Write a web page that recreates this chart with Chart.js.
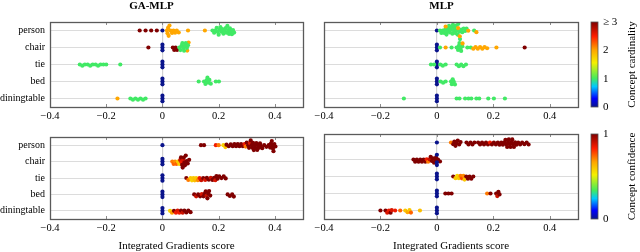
<!DOCTYPE html>
<html>
<head>
<meta charset="utf-8">
<script src="https://cdn.jsdelivr.net/npm/chart.js@4.4.1/dist/chart.umd.min.js"></script>
<style>
  body { margin: 0; background: #fff; }
  #wrap { position: relative; width: 640px; height: 252px; overflow: hidden; }
  canvas { position: absolute; }
</style>
</head>
<body>
<div id="wrap">
  <canvas id="tl" width="315" height="126" style="left:0;top:0"></canvas>
  <canvas id="tr" width="335" height="126" style="left:305px;top:0"></canvas>
  <canvas id="bl" width="315" height="126" style="left:0;top:126px"></canvas>
  <canvas id="br" width="335" height="126" style="left:305px;top:126px"></canvas>
</div>
<script>
const categories = ['person', 'chair', 'tie', 'bed', 'diningtable'];
const xTicks = [-0.4, -0.2, 0, 0.2, 0.4];
const cardinalityLabels = ['0', '1', '2', '\u2265 3'];
const confidenceLabels = ['0', '1'];

// GA-MLP, [score, concept cardinality]
const gaCardPerson = [[-0.081, 3], [-0.060, 3], [-0.040, 3], [-0.020, 3], [0, 0],
  [0.016, 2], [0.018, 2], [0.020, 2], [0.022, 2], [0.025, 2], [0.029, 2], [0.034, 2], [0.039, 2], [0.045, 2], [0.051, 2], [0.058, 2], [0.091, 2], [0.151, 2],
  [0.178, 1], [0.184, 1], [0.189, 1], [0.193, 1], [0.197, 1], [0.200, 1], [0.203, 1], [0.206, 1], [0.210, 1], [0.213, 1], [0.217, 1],
  [0.221, 1], [0.225, 1], [0.228, 1], [0.231, 1], [0.234, 1], [0.237, 1], [0.240, 1], [0.243, 1], [0.247, 1], [0.251, 1], [0.255, 1]];
const gaCardChair = [[-0.050, 3], [0, 0], [0, 0], [0, 0], [0.037, 3], [0.042, 3], [0.047, 3], [0.052, 3], [0.088, 2], [0.093, 2],
  [0.060, 1], [0.064, 1], [0.068, 1], [0.071, 1], [0.074, 1], [0.077, 1], [0.080, 1], [0.083, 1], [0.087, 1], [0.091, 1]];
const gaCardTie = [[-0.294, 1], [-0.285, 1], [-0.276, 1], [-0.266, 1], [-0.257, 1], [-0.248, 1], [-0.238, 1], [-0.229, 1], [-0.220, 1],
  [-0.210, 1], [-0.200, 1], [-0.150, 1], [0, 0], [0, 0], [0, 0]];
const gaCardBed = [[0, 0], [0, 0], [0, 0], [0.129, 1], [0.148, 1], [0.153, 1], [0.157, 1], [0.160, 1], [0.163, 1], [0.167, 1], [0.172, 1], [0.190, 1], [0.201, 1]];
const gaCardTable = [[-0.160, 2], [-0.114, 1], [-0.105, 1], [-0.096, 1], [-0.087, 1], [-0.078, 1], [-0.069, 1], [-0.060, 1], [0, 0], [0, 0], [0, 0]];

// MLP, [score, concept cardinality]
const mlpCardPerson = [[0, 0],
  [0.011, 1], [0.016, 1], [0.021, 1], [0.026, 1], [0.030, 1], [0.034, 1], [0.037, 1], [0.040, 1], [0.043, 1], [0.046, 1], [0.049, 1],
  [0.052, 1], [0.055, 1], [0.057, 1], [0.060, 1], [0.062, 1], [0.065, 1], [0.068, 1], [0.070, 1], [0.073, 1], [0.076, 1], [0.079, 1],
  [0.082, 1], [0.086, 1], [0.090, 1], [0.095, 1], [0.100, 1], [0.105, 1], [0.132, 1],
  [0.031, 2], [0.075, 2], [0.081, 2], [0.111, 2], [0.140, 2]];
const mlpCardChair = [[0, 0], [0, 0], [0, 0],
  [0.011, 1], [0.052, 1], [0.070, 1], [0.075, 1], [0.078, 1], [0.080, 1], [0.083, 1], [0.086, 1], [0.090, 1], [0.108, 1], [0.120, 1],
  [0.031, 2], [0.091, 2], [0.129, 2], [0.137, 2], [0.145, 2], [0.153, 2], [0.161, 2], [0.169, 2], [0.178, 2], [0.211, 2], [0.311, 3]];
const mlpCardTie = [[0, 0], [0, 0], [0, 0], [-0.021, 1], [-0.010, 1], [0.012, 1], [0.021, 1], [0.031, 1],
  [0.070, 1], [0.078, 1], [0.086, 1], [0.094, 1], [0.103, 1]];
const mlpCardBed = [[0, 0], [0, 0], [0, 0], [0.013, 1], [0.022, 1], [0.031, 1], [0.050, 1], [0.053, 1], [0.056, 1], [0.060, 1], [0.064, 1]];
const mlpCardTable = [[0, 0], [0, 0], [0, 0], [-0.117, 1], [0.070, 1], [0.080, 1], [0.100, 1], [0.112, 1], [0.122, 1], [0.140, 1],
  [0.150, 1], [0.182, 1], [0.202, 1], [0.241, 1]];

// GA-MLP, [score, concept confidence]
const gaConfPerson = [[0, 0], [0.137, 1], [0.148, 1], [0.190, 0.85], [0.200, 0.72], [0.217, 0.58], [0.224, 0.62],
  [0.228, 1], [0.236, 1], [0.243, 1], [0.250, 1], [0.256, 1], [0.262, 1], [0.268, 1], [0.274, 1], [0.280, 1], [0.286, 1],
  [0.292, 0.85], [0.296, 0.72], [0.300, 1], [0.305, 1], [0.308, 1], [0.311, 0.87], [0.314, 1], [0.317, 1], [0.320, 1], [0.322, 1],
  [0.325, 1], [0.328, 1], [0.331, 1], [0.334, 1], [0.337, 1], [0.340, 1], [0.343, 1], [0.347, 1], [0.350, 1], [0.355, 1],
  [0.362, 1], [0.370, 1], [0.378, 1], [0.383, 1], [0.386, 1], [0.389, 1], [0.391, 1], [0.393, 1], [0.395, 1], [0.398, 1], [0.402, 1]];
const gaConfChair = [[0, 0], [0, 0], [0, 0], [0.035, 0.72], [0.040, 0.75], [0.045, 0.70], [0.050, 0.75], [0.055, 0.60], [0.060, 0.58],
  [0.063, 0.90], [0.066, 1], [0.068, 0.85], [0.070, 1], [0.072, 1], [0.074, 0.88], [0.076, 1], [0.078, 1], [0.080, 1],
  [0.083, 1], [0.086, 1], [0.090, 1], [0.095, 1]];
const gaConfTie = [[0, 0], [0, 0], [0, 0], [0.085, 1], [0.092, 0.72], [0.100, 0.60], [0.105, 0.58], [0.110, 0.60], [0.115, 0.62],
  [0.120, 0.60], [0.126, 0.70], [0.132, 0.85], [0.138, 0.90], [0.145, 1], [0.152, 0.88], [0.158, 1], [0.165, 1], [0.172, 0.90],
  [0.178, 1], [0.184, 1], [0.188, 0.88], [0.192, 1], [0.196, 1], [0.202, 1], [0.210, 1], [0.218, 1], [0.225, 1]];
const gaConfBed = [[0, 0], [0, 0], [0, 0], [0.113, 1], [0.120, 0.90], [0.127, 1], [0.134, 1], [0.140, 0.88], [0.146, 1], [0.150, 1],
  [0.154, 1], [0.157, 0.90], [0.160, 1], [0.163, 1], [0.166, 1], [0.170, 1], [0.232, 1], [0.240, 1], [0.248, 1], [0.254, 1]];
const gaConfTable = [[0, 0], [0, 0], [0, 0], [0.027, 0.58], [0.034, 0.68], [0.041, 1], [0.048, 0.85], [0.054, 0.88], [0.060, 0.85],
  [0.066, 1], [0.072, 0.90], [0.078, 1], [0.085, 1], [0.092, 1], [0.100, 1]];

// MLP, [score, concept confidence]
const mlpConfPerson = [[0, 0], [0.050, 0.72], [0.058, 1], [0.062, 1], [0.066, 1], [0.070, 1], [0.074, 1], [0.079, 1], [0.084, 1],
  [0.105, 1], [0.112, 1], [0.119, 1], [0.126, 1], [0.133, 1],
  [0.146, 1], [0.153, 1], [0.160, 1], [0.167, 1], [0.174, 1], [0.181, 1], [0.188, 0.85], [0.195, 1], [0.202, 1], [0.209, 1],
  [0.216, 1], [0.222, 1], [0.228, 1], [0.234, 1], [0.239, 1], [0.243, 1], [0.246, 1], [0.249, 1], [0.252, 1], [0.255, 1],
  [0.258, 1], [0.261, 1], [0.264, 1], [0.267, 1], [0.270, 1], [0.273, 1], [0.277, 1], [0.282, 1], [0.288, 1], [0.295, 1],
  [0.302, 1], [0.310, 1], [0.318, 1], [0.325, 1]];
const mlpConfChair = [[-0.083, 1], [-0.077, 1], [-0.071, 1], [-0.065, 1], [-0.059, 1], [-0.053, 1], [-0.047, 1], [-0.041, 1],
  [-0.036, 0.85], [-0.031, 0.72], [-0.026, 0.90], [-0.022, 1], [-0.018, 1], [-0.014, 1], [-0.010, 1], [-0.006, 1], [-0.003, 1],
  [0.004, 1], [0.011, 1], [0, 0], [0, 0], [0, 0]];
const mlpConfTie = [[0, 0], [0, 0], [0, 0], [0.058, 1], [0.066, 0.60], [0.072, 0.58], [0.078, 0.60], [0.084, 0.72], [0.089, 0.78],
  [0.094, 0.70], [0.098, 0.60], [0.104, 1], [0.110, 1], [0.116, 1], [0.122, 1], [0.129, 1]];
const mlpConfBed = [[0, 0], [0, 0], [0, 0], [0.030, 1], [0.041, 1], [0.052, 1], [0.178, 0.72], [0.190, 1], [0.210, 1], [0.214, 0.90],
  [0.218, 1], [0.222, 1]];
const mlpConfTable = [[-0.200, 1], [-0.182, 1], [-0.176, 0.88], [-0.170, 0.85], [-0.164, 1], [-0.160, 0.88], [-0.148, 0.85],
  [-0.130, 0.75], [-0.112, 0.60], [-0.104, 0.66], [-0.097, 0.60], [-0.092, 0.75], [-0.060, 0.62], [0, 0], [0, 0], [0, 0]];

const SERIF = '"Liberation Serif", "Times New Roman", serif';
const PX_X = 281;   // pixels per score unit in each panel
const PX_ROW = 17;  // pixels per category row
const DOT = 2.8;    // min centre distance in the swarm

const cmapStops = [
  [0.00, [10, 20, 140]],
  [0.10, [0, 0, 255]],
  [0.24, [0, 200, 255]],
  [0.34, [70, 235, 90]],
  [0.52, [245, 240, 0]],
  [0.67, [255, 165, 0]],
  [0.83, [255, 30, 0]],
  [1.00, [128, 0, 0]]
];

const rgb = c => `rgb(${c.map(Math.round).join(',')})`;

function colorAt(t) {
  t = Math.max(0, Math.min(1, t));
  for (let i = 1; i < cmapStops.length; i++) {
    const [t1, c1] = cmapStops[i];
    if (t <= t1) {
      const [t0, c0] = cmapStops[i - 1];
      const f = (t - t0) / (t1 - t0);
      return rgb(c0.map((v, k) => v + (c1[k] - v) * f));
    }
  }
  return rgb(cmapStops[cmapStops.length - 1][1]);
}

// simple beeswarm: place each point at the smallest vertical offset that doesn't collide
function swarmRow(points, row) {
  const order = points.map((p, i) => i).sort((a, b) => points[a][0] - points[b][0]);
  const placed = [];
  const offs = [];
  for (const i of order) {
    const xp = points[i][0] * PX_X;
    const near = placed.filter(q => Math.abs(q.xp - xp) < DOT);
    const cands = [0];
    near.forEach(q => {
      const h = Math.sqrt(DOT * DOT - (q.xp - xp) ** 2);
      cands.push(q.y + h, q.y - h);
    });
    cands.sort((a, b) => Math.abs(a) - Math.abs(b));
    const y = cands.find(c => near.every(q => (q.xp - xp) ** 2 + (q.y - c) ** 2 >= DOT * DOT - 1e-6));
    placed.push({ xp, y });
    offs[i] = y;
  }
  return points.map((p, i) => ({ x: p[0], y: row + offs[i] / PX_ROW, c: p[1] }));
}

const fmt = v => (v === 0 ? '0' : (v < 0 ? '\u2212' : '') + Math.abs(v).toFixed(1));

const framePlugin = {
  id: 'frame',
  afterDraw(chart) {
    const { ctx, chartArea: a, scales: { x } } = chart;
    ctx.save();
    ctx.strokeStyle = '#8c8c8c';
    ctx.lineWidth = 1;
    ctx.beginPath();
    xTicks.forEach(v => {
      const px = Math.round(x.getPixelForValue(v)) + 0.5;
      ctx.moveTo(px, a.top);
      ctx.lineTo(px, a.top + 3);
      ctx.moveTo(px, a.bottom);
      ctx.lineTo(px, a.bottom - 3);
    });
    ctx.stroke();
    ctx.strokeStyle = '#5a5a5a';
    ctx.lineWidth = 1.3;
    ctx.strokeRect(Math.round(a.left) + 0.5, Math.round(a.top) + 0.5, Math.round(a.right - a.left), Math.round(a.bottom - a.top));
    ctx.restore();
  }
};

const colorbarPlugin = {
  id: 'colorbar',
  afterDraw(chart, args, o) {
    if (!o || !o.title) return;
    const { ctx, chartArea: a } = chart;
    const x0 = Math.round(a.right) + 13, w = 7, h = a.bottom - a.top;
    const g = ctx.createLinearGradient(0, a.bottom, 0, a.top);
    cmapStops.forEach(([t, c]) => g.addColorStop(t, rgb(c)));
    ctx.save();
    ctx.fillStyle = g;
    ctx.fillRect(x0, a.top, w, h);
    ctx.strokeStyle = '#555';
    ctx.lineWidth = 0.8;
    ctx.strokeRect(x0, a.top, w, h);
    ctx.fillStyle = '#000';
    ctx.font = `11px ${SERIF}`;
    ctx.textBaseline = 'middle';
    ctx.textAlign = 'left';
    o.labels.forEach((t, i) => ctx.fillText(t, x0 + w + 5, a.bottom - h * i / (o.labels.length - 1)));
    ctx.translate(x0 + 41, (a.top + a.bottom) / 2);
    ctx.rotate(-Math.PI / 2);
    ctx.textAlign = 'center';
    ctx.fillText(o.title, 0, 0);
    ctx.restore();
  }
};

Chart.register(framePlugin, colorbarPlugin);

function makePanel(id, rows, cmax, opt) {
  const pts = rows.flatMap((r, i) => swarmRow(r, i));
  return new Chart(document.getElementById(id), {
    type: 'scatter',
    data: {
      datasets: [{
        data: pts,
        pointRadius: 2.1,
        pointHoverRadius: 2.1,
        borderWidth: 0,
        backgroundColor: pts.map(p => colorAt(p.c / cmax))
      }]
    },
    options: {
      responsive: false,
      animation: false,
      layout: { padding: { top: opt.padTop, right: opt.padRight, left: 0, bottom: 0 } },
      plugins: {
        legend: { display: false },
        tooltip: { enabled: false },
        title: {
          display: !!opt.title,
          text: opt.title,
          color: '#000',
          font: { family: SERIF, size: 11, weight: 'bold' },
          padding: { top: 0, bottom: 8.8 }
        },
        colorbar: opt.colorbar || false
      },
      scales: {
        x: {
          type: 'linear',
          min: -0.4,
          max: 0.5,
          afterBuildTicks: s => { s.ticks = xTicks.map(v => ({ value: v })); },
          afterFit: s => { s.height = opt.xHeight; },
          ticks: {
            callback: v => fmt(v),
            color: '#000',
            font: { family: SERIF, size: 10.5 },
            padding: 3,
            maxRotation: 0,
            autoSkip: false
          },
          grid: {
            drawTicks: false,
            color: c => (c.tick && c.tick.value === 0 ? '#d2d2d2' : 'rgba(0,0,0,0)'),
            lineWidth: 1.2
          },
          border: { display: false },
          title: {
            display: !!opt.xTitle,
            text: opt.xTitle,
            color: '#000',
            font: { family: SERIF, size: 11, lineHeight: 1 },
            padding: { top: 0, bottom: 0.5 }
          }
        },
        y: {
          type: 'linear',
          reverse: true,
          min: -0.5,
          max: 4.5,
          afterBuildTicks: s => { s.ticks = categories.map((c, i) => ({ value: i })); },
          afterFit: s => { s.width = opt.yWidth; },
          ticks: {
            display: opt.showY,
            callback: v => categories[v],
            color: '#000',
            font: { family: SERIF, size: 10 },
            padding: 5
          },
          grid: { drawTicks: false, color: '#dcdcdc', lineWidth: 1 },
          border: { display: false }
        }
      }
    }
  });
}

makePanel('tl', [gaCardPerson, gaCardChair, gaCardTie, gaCardBed, gaCardTable], 3,
  { title: 'GA-MLP', padTop: 0, padRight: 12, yWidth: 50, xHeight: 19, showY: true });
makePanel('tr', [mlpCardPerson, mlpCardChair, mlpCardTie, mlpCardBed, mlpCardTable], 3,
  { title: 'MLP', padTop: 0, padRight: 62, yWidth: 19, xHeight: 19, showY: false,
    colorbar: { labels: cardinalityLabels, title: 'Concept cardinality' } });
makePanel('bl', [gaConfPerson, gaConfChair, gaConfTie, gaConfBed, gaConfTable], 1,
  { padTop: 8, padRight: 12, yWidth: 50, xHeight: 33, showY: true, xTitle: 'Integrated Gradients score' });
makePanel('br', [mlpConfPerson, mlpConfChair, mlpConfTie, mlpConfBed, mlpConfTable], 1,
  { padTop: 8, padRight: 62, yWidth: 19, xHeight: 33, showY: false, xTitle: 'Integrated Gradients score',
    colorbar: { labels: confidenceLabels, title: 'Concept confidence' } });
</script>
</body>
</html>
